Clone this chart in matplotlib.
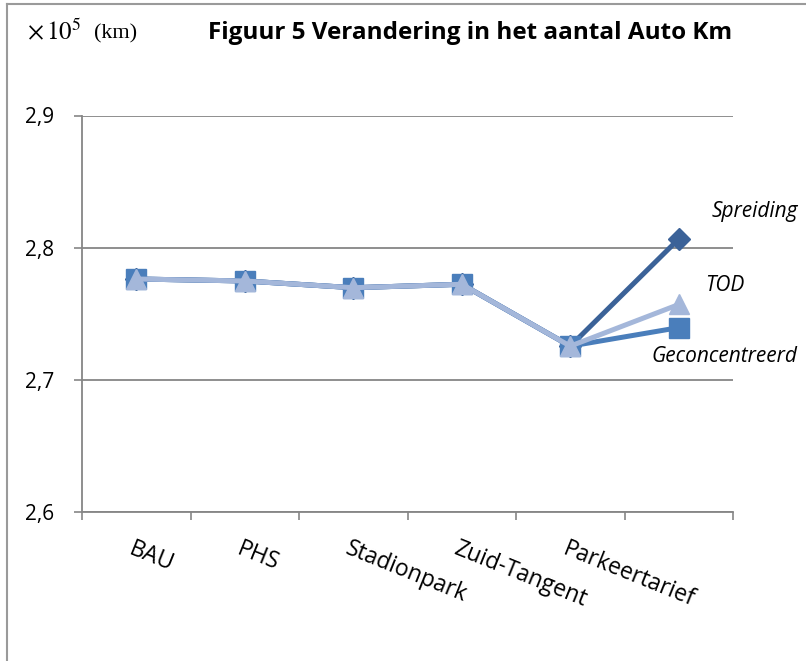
import matplotlib.pyplot as plt
from matplotlib.lines import Line2D

categories = ['BAU', 'PHS', 'Stadionpark', 'Zuid-Tangent', 'Parkeertarief', '']
spreiding = [2.7763, 2.7748, 2.7697, 2.7723, 2.7255, 2.8066]
geconcentreerd = [2.7763, 2.7748, 2.7697, 2.7723, 2.7255, 2.7395]
tod = [2.7763, 2.7748, 2.7697, 2.7723, 2.7255, 2.7570]

plt.rcParams['font.family'] = ['Open Sans', 'DejaVu Sans']
plt.rcParams['mathtext.fontset'] = 'stix'

fig = plt.figure(figsize=(8.06, 6.61), dpi=100)
ax = fig.add_axes([82 / 806, 1 - 512 / 661, (733 - 82) / 806, (512 - 115.5) / 661])

x = list(range(len(categories)))
ax.plot(x, spreiding, color='#3B6298', lw=3.6, marker='D', ms=11, zorder=3)
ax.plot(x, geconcentreerd, color='#4A7EBB', lw=3.6, marker='s', ms=14, zorder=4)
ax.plot(x, tod, color='#A4B7DA', lw=3.6, marker='^', ms=14, zorder=5)

ax.set_xlim(-0.5, 5.5)
ax.set_ylim(2.6, 2.9)
ax.set_yticks([2.6, 2.7, 2.8, 2.9])
ax.set_yticklabels(['2,6', '2,7', '2,8', '2,9'], fontsize=15)
ax.set_xticks([i - 0.5 for i in range(7)])
ax.set_xticklabels([])
ax.tick_params(axis='both', direction='out', length=6, width=1.2, color='#868686')
ax.tick_params(axis='y', pad=14)
ax.grid(axis='y', color='#868686', lw=1.3)
ax.set_axisbelow(True)
for s in ['top', 'right']:
    ax.spines[s].set_visible(False)
for s in ['left', 'bottom']:
    ax.spines[s].set_color('#868686')
    ax.spines[s].set_linewidth(1.3)

for i, lab in enumerate(categories):
    ax.text(i - 0.02, 2.6 - 0.019, lab, rotation=-22, rotation_mode='anchor',
            ha='left', va='top', fontsize=16.5)

ax.text(5.3, 2.827, 'Spreiding', style='italic', fontsize=15, ha='left', va='center', clip_on=False)
ax.text(5.24, 2.771, 'TOD', style='italic', fontsize=15, ha='left', va='center', clip_on=False)
ax.text(4.75, 2.718, 'Geconcentreerd', style='italic', fontsize=15, ha='left', va='center', clip_on=False)

fig.text(208 / 806, 1 - 33 / 661, 'Figuur 5 Verandering in het aantal Auto Km',
         fontsize=17.5, fontweight='bold', ha='left', va='center')
fig.text(27 / 806, 1 - 32 / 661, r'$\times\,10^5$', fontsize=18, ha='left', va='center')
fig.text(94 / 806, 1 - 34 / 661, '(km)', family='Liberation Serif',
         fontsize=16, ha='left', va='center')

fig.add_artist(Line2D([7 / 806, 7 / 806], [0, 1 - 4 / 661], color='#9a9a9a', lw=1.5))
fig.add_artist(Line2D([7 / 806, 1], [1 - 4 / 661, 1 - 4 / 661], color='#9a9a9a', lw=1.5))

plt.savefig('out.png', dpi=100)
